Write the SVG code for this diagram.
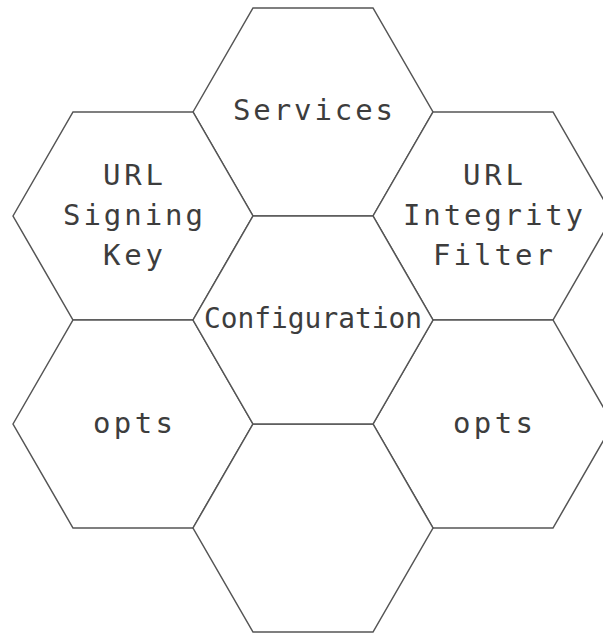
<svg xmlns="http://www.w3.org/2000/svg" width="603" height="634" viewBox="0 0 603 634">
<style>
.hex{fill:#ffffff;stroke:#555555;stroke-width:1.5;stroke-linejoin:miter}
.t{font-family:"DejaVu Sans Mono","Liberation Mono",monospace;font-size:29px;fill:#3d3d3d;text-anchor:middle}
</style>
<defs>
<polygon id="h" points="-120,0 -60,-104 60,-104 120,0 60,104 -60,104"/>
</defs>
<rect width="603" height="634" fill="#ffffff"/>
<g id="connectors"></g>
<g id="services"><use href="#h" class="hex" x="313" y="112"/><text class="t" x="313" y="120" textLength="160" lengthAdjust="spacing">Services</text></g>
<g id="url-signing-key"><use href="#h" class="hex" x="133" y="216"/><text class="t" x="133" y="185" textLength="60" lengthAdjust="spacing">URL</text><text class="t" x="133" y="225" textLength="140" lengthAdjust="spacing">Signing</text><text class="t" x="133" y="265" textLength="60" lengthAdjust="spacing">Key</text></g>
<g id="url-integrity-filter"><use href="#h" class="hex" x="493" y="216"/><text class="t" x="493" y="185" textLength="60" lengthAdjust="spacing">URL</text><text class="t" x="493" y="225" textLength="180" lengthAdjust="spacing">Integrity</text><text class="t" x="493" y="265" textLength="120" lengthAdjust="spacing">Filter</text></g>
<g id="opts-left"><use href="#h" class="hex" x="133" y="424"/><text class="t" x="133" y="433" textLength="80" lengthAdjust="spacing">opts</text></g>
<g id="opts-right"><use href="#h" class="hex" x="493" y="424"/><text class="t" x="493" y="433" textLength="80" lengthAdjust="spacing">opts</text></g>
<g id="bottom"><use href="#h" class="hex" x="313" y="528"/></g>
<g id="configuration"><use href="#h" class="hex" x="313" y="320"/><text class="t" x="313" y="328" textLength="218" lengthAdjust="spacingAndGlyphs">Configuration</text></g>
</svg>
